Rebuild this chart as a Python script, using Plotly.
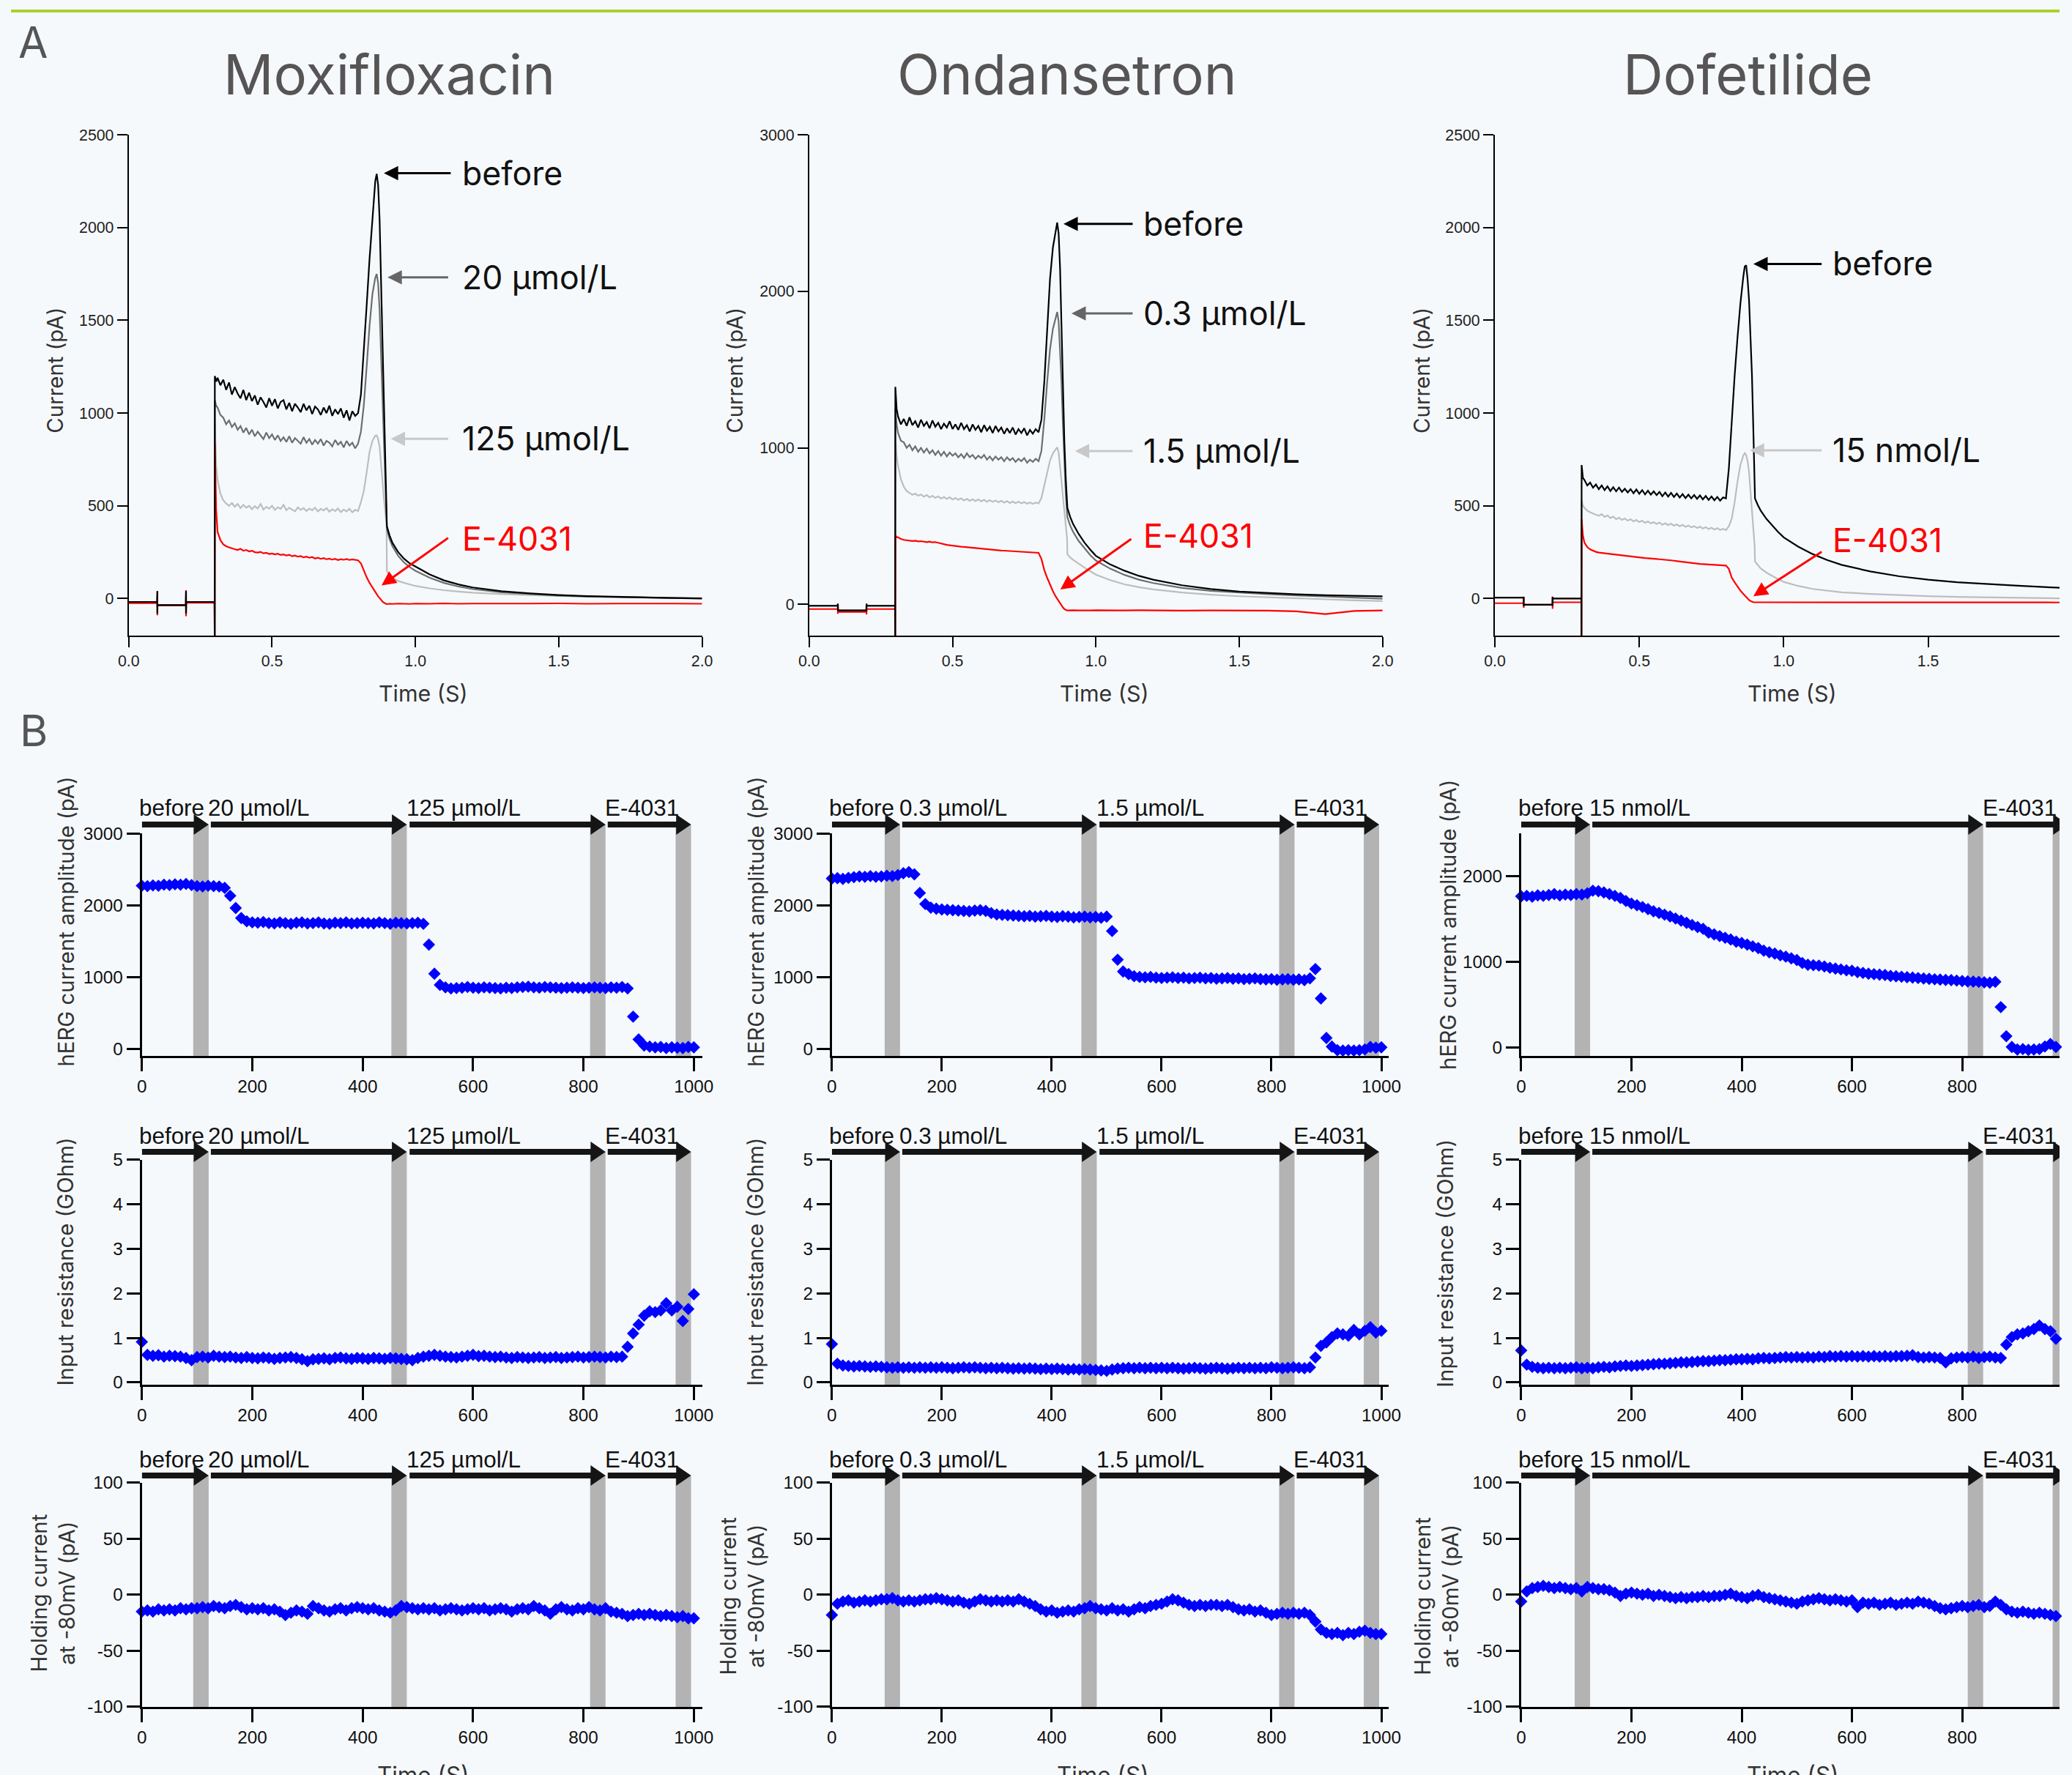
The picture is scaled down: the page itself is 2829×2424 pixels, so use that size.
import plotly.graph_objects as go

W, H = 2829, 2424
BG = "#f6f9fc"
FONT_HEAD = "Inter, 'Open Sans', sans-serif"
FONT_TICK = "'Liberation Sans', Arial, sans-serif"
BLACK, MID, LIGHT, RED = "#000000", "#6e6e6e", "#bdbdbd", "#ff0000"

# The photographed page shows up slightly scaled and shifted; the geometry below is
# given in target-image pixels and mapped back to page pixels here.
SX, OX = 0.9875, 14.5
SY, OY = 0.989, 13.8


def qx(r):
    return (r - OX) / SX


def qy(r):
    return (r - OY) / SY


def px_x(r):
    return qx(r) / W


def px_y(r):
    return 1 - qy(r) / H


def fs(size):
    return round(size / SX, 1)


def x_domain_range(r0, r1, v0, v1):
    q0, q1 = qx(r0), qx(r1)
    if q1 > W:
        v1 = v0 + (v1 - v0) * (W - q0) / (q1 - q0)
        q1 = W
    return [q0 / W, q1 / W], [v0, v1]


# ===================== PANEL A DATA (current in pA vs time in s) =====================
T_PRE = [0.0, 0.0995, 0.1, 0.1, 0.1005, 0.1995, 0.2, 0.2, 0.2005, 0.2995]
T_JUMP = [0.3, 0.3005, 0.305]
T_PLATEAU = [0.31, 0.32, 0.33, 0.34, 0.35, 0.36, 0.37, 0.38, 0.39, 0.40,
             0.41, 0.42, 0.43, 0.44, 0.45, 0.46, 0.47, 0.48, 0.49, 0.50,
             0.51, 0.52, 0.53, 0.54, 0.55, 0.56, 0.57, 0.58, 0.59, 0.60,
             0.61, 0.62, 0.63, 0.64, 0.65, 0.66, 0.67, 0.68, 0.69, 0.70,
             0.71, 0.72, 0.73, 0.74, 0.75, 0.76, 0.77, 0.78, 0.79, 0.80]
T_PEAK = [0.81, 0.82, 0.83, 0.84, 0.85, 0.86, 0.865, 0.87, 0.875, 0.88, 0.885, 0.89, 0.895, 0.8995]
T_TAIL = [0.9005, 0.91, 0.92, 0.94, 0.96, 0.98, 1.0, 1.05, 1.1, 1.15, 1.2, 1.3, 1.4, 1.5, 1.6, 1.7, 1.8, 1.9, 2.0]
TIME_A = T_PRE + T_JUMP + T_PLATEAU + T_PEAK + T_TAIL

# ---- Moxifloxacin ----
MOX_BEFORE = ([-18, -18, 40, -80, -35, -35, 40, -80, -18, -18] + [-200, 1200, 1170] +
              [1190, 1150, 1180, 1125, 1165, 1100, 1140, 1105, 1080, 1125,
               1070, 1110, 1065, 1095, 1045, 1085, 1060, 1030, 1080, 1040,
               1075, 1025, 1060, 1070, 1020, 1055, 1010, 1050, 1030, 1005,
               1050, 1015, 1040, 995, 1035, 1020, 990, 1030, 1000, 1040,
               985, 1020, 995, 1025, 975, 1015, 960, 1010, 985, 1000] +
              [1100, 1320, 1580, 1830, 2060, 2250, 2290, 2230, 2050, 1725, 1350, 970, 650, 420] +
              [390, 340, 300, 250, 215, 190, 172, 130, 98, 76, 60, 40, 28, 19, 13, 9, 6, 3, 1])
MOX_20 = ([-18, -18, 15, -50, -35, -35, 15, -55, -18, -18] + [-200, 1070, 1040] +
          [1030, 990, 975, 940, 960, 925, 945, 910, 930, 895,
           920, 885, 910, 875, 900, 880, 860, 895, 865, 885,
           855, 880, 850, 870, 845, 875, 840, 865, 850, 835,
           870, 840, 860, 830, 855, 835, 860, 825, 850, 840,
           820, 855, 830, 845, 815, 850, 825, 840, 810, 835] +
          [900, 1040, 1250, 1470, 1640, 1730, 1750, 1700, 1560, 1330, 1080, 830, 580, 420] +
          [375, 320, 282, 230, 195, 170, 150, 112, 84, 65, 51, 34, 24, 16, 11, 8, 5, 2, 0])
MOX_125 = ([-18, -18, 5, -40, -35, -35, 5, -45, -18, -18] + [-200, 950, 720] +
           [640, 565, 530, 512, 500, 515, 495, 510, 488, 505,
            490, 500, 482, 498, 486, 510, 480, 495, 485, 500,
            478, 492, 484, 505, 476, 490, 480, 470, 492, 478,
            488, 472, 485, 476, 490, 470, 484, 475, 488, 468,
            482, 472, 486, 466, 480, 470, 484, 465, 478, 472] +
           [520, 580, 680, 790, 850, 878, 880, 860, 820, 740, 640, 540, 460, 400] +
           [150, 125, 110, 95, 85, 75, 68, 55, 45, 38, 32, 24, 18, 14, 11, 8, 5, 3, 0])
MOX_E4031 = ([-25, -25, 40, -90, -35, -35, 45, -95, -23, -23] + [-200, 830, 480] +
             [360, 315, 292, 282, 276, 270, 266, 262, 268, 258,
              262, 254, 258, 250, 248, 252, 244, 247, 240, 243,
              238, 242, 235, 238, 232, 236, 228, 232, 226, 229,
              222, 226, 220, 224, 216, 220, 214, 218, 212, 215,
              210, 214, 208, 212, 209, 213, 208, 211, 207, 206] +
             [190, 150, 115, 85, 60, 35, 22, 12, 3, -8, -16, -22, -28, -30] +
             [-30, -28, -29, -27, -28, -29, -27, -28, -26, -28, -27, -28, -27, -26, -28, -27, -26, -27, -28])

# ---- Ondansetron ----
OND_BEFORE = ([-9, -9, 5, -25, -39, -39, 5, -25, -9, -9] + [-200, 1390, 1250] +
              [1200, 1150, 1185, 1140, 1195, 1145, 1170, 1130, 1180, 1140,
               1165, 1125, 1175, 1135, 1160, 1120, 1155, 1130, 1170, 1120,
               1150, 1115, 1160, 1120, 1145, 1105, 1150, 1115, 1140, 1100,
               1145, 1110, 1135, 1095, 1140, 1105, 1130, 1090, 1125, 1095,
               1130, 1085, 1120, 1095, 1125, 1080, 1115, 1090, 1120, 1100] +
              [1180, 1420, 1750, 2080, 2280, 2400, 2440, 2370, 2150, 1780, 1400, 1040, 800, 650] +
              [617, 560, 515, 450, 395, 350, 310, 255, 215, 182, 158, 122, 98, 82, 72, 64, 58, 54, 51])
OND_03 = ([-9, -9, 0, -20, -39, -39, 0, -20, -9, -9] + [-200, 1250, 1150] +
          [1095, 1045, 1035, 1000, 1020, 985, 1010, 975, 1000, 970,
           995, 965, 985, 955, 980, 950, 975, 945, 970, 950,
           965, 940, 960, 935, 965, 940, 955, 930, 950, 935,
           955, 925, 945, 920, 945, 925, 940, 915, 940, 920,
           935, 910, 930, 915, 935, 905, 925, 910, 930, 915] +
          [980, 1180, 1420, 1630, 1760, 1840, 1868, 1810, 1640, 1420, 1150, 885, 700, 580] +
          [557, 505, 465, 405, 360, 315, 280, 228, 188, 158, 136, 105, 86, 74, 65, 57, 49, 42, 36])
OND_15 = ([-9, -9, 0, -20, -39, -39, 0, -20, -9, -9] + [-200, 1060, 950] +
          [885, 800, 752, 725, 712, 700, 708, 694, 702, 688,
           698, 684, 694, 680, 690, 676, 686, 674, 684, 670,
           680, 668, 678, 664, 674, 662, 672, 660, 670, 658,
           668, 656, 666, 655, 664, 652, 662, 650, 660, 648,
           658, 646, 656, 645, 654, 643, 652, 642, 650, 645] +
          [680, 760, 850, 920, 965, 995, 1004, 970, 890, 790, 690, 590, 480, 420] +
          [320, 300, 285, 258, 235, 212, 190, 155, 128, 110, 96, 76, 62, 52, 45, 39, 32, 26, 21])
OND_E4031 = ([-30, -30, 0, -60, -48, -48, 0, -65, -30, -30] + [-200, 440, 430] +
             [428, 418, 412, 410, 408, 405, 407, 402, 404, 400,
              398, 401, 396, 398, 393, 390, 385, 380, 378, 375,
              372, 370, 368, 367, 365, 363, 361, 360, 357, 355,
              353, 352, 350, 349, 347, 346, 344, 343, 342, 340,
              339, 338, 337, 335, 334, 333, 332, 331, 330, 329] +
             [290, 220, 170, 125, 85, 50, 35, 20, 5, -8, -20, -30, -37, -39] +
             [-39, -40, -38, -39, -40, -39, -38, -40, -39, -38, -39, -40, -39, -38, -40, -45, -62, -42, -39])

# ---- Dofetilide ----
DOF_BEFORE = ([5, 5, 10, -40, -33, -33, 10, -40, 0, 0] + [-200, 720, 650] +
              [640, 610, 625, 598, 615, 590, 610, 585, 605, 580,
               600, 578, 598, 575, 592, 572, 590, 568, 588, 565,
               585, 562, 582, 560, 578, 558, 575, 552, 572, 550,
               570, 548, 566, 545, 563, 542, 560, 540, 558, 538,
               556, 535, 553, 532, 550, 530, 548, 528, 545, 540] +
              [700, 955, 1200, 1407, 1590, 1734, 1790, 1797, 1720, 1608, 1420, 1206, 900, 600] +
              [540, 505, 475, 430, 395, 360, 330, 280, 240, 208, 182, 146, 120, 102, 88, 78, 70, 62, 55])
DOF_15 = ([5, 5, 5, -30, -33, -33, 5, -30, 0, 0] + [-200, 530, 500] +
          [490, 474, 466, 458, 452, 447, 455, 440, 448, 434,
           442, 428, 436, 424, 432, 420, 428, 416, 424, 412,
           420, 408, 416, 405, 412, 402, 410, 398, 406, 396,
           404, 393, 400, 390, 397, 387, 394, 384, 391, 381,
           388, 378, 385, 375, 382, 372, 380, 370, 376, 369] +
          [390, 430, 520, 630, 720, 770, 784, 775, 740, 680, 580, 460, 350, 280] +
          [200, 180, 163, 140, 122, 105, 90, 68, 52, 42, 34, 25, 18, 13, 9, 6, 4, 2, 0])
DOF_E4031 = ([-25, -25, 10, -50, -33, -33, 10, -55, -20, -20] + [-200, 427, 340] +
             [302, 278, 265, 258, 252, 248, 246, 244, 242, 239,
              238, 235, 234, 231, 230, 228, 227, 224, 223, 221,
              220, 218, 217, 215, 214, 213, 212, 211, 210, 209,
              206, 204, 202, 200, 197, 195, 193, 191, 190, 188,
              187, 186, 185, 184, 183, 182, 181, 180, 179, 178] +
             [160, 113, 88, 63, 43, 25, 16, 8, 0, -8, -13, -18, -20, -20] +
             [-20, -21, -20, -19, -20, -21, -20, -19, -20, -21, -20, -20, -19, -20, -21, -20, -19, -20, -21])

A_TITLES = ["Moxifloxacin", "Ondansetron", "Dofetilide"]
A_XTICKS = [0, 0.5, 1.0, 1.5, 2.0]
A_XTICKTEXT = ["0.0", "0.5", "1.0", "1.5", "2.0"]
A_YRANGES = [[-200, 2500], [-200, 3000], [-200, 2500]]
A_YTICKS = [[0, 500, 1000, 1500, 2000, 2500], [0, 1000, 2000, 3000], [0, 500, 1000, 1500, 2000, 2500]]
A_TRACES = [
    [("125 µmol/L", MOX_125, LIGHT), ("20 µmol/L", MOX_20, MID), ("E-4031", MOX_E4031, RED), ("before", MOX_BEFORE, BLACK)],
    [("1.5 µmol/L", OND_15, LIGHT), ("0.3 µmol/L", OND_03, MID), ("E-4031", OND_E4031, RED), ("before", OND_BEFORE, BLACK)],
    [("15 nmol/L", DOF_15, LIGHT), ("E-4031", DOF_E4031, RED), ("before", DOF_BEFORE, BLACK)],
]
# callout labels: text, colour, arrow tip (t, pA), arrow tail (t, pA), label position (t, pA)
A_CALLOUT_TEXT = [["before", "20 µmol/L", "125 µmol/L", "E-4031"],
                  ["before", "0.3 µmol/L", "1.5 µmol/L", "E-4031"],
                  ["before", "15 nmol/L", "E-4031"]]
A_CALLOUT_COLOR = [[BLACK, "#666666", "#c8c8c8", RED], [BLACK, "#666666", "#c8c8c8", RED], [BLACK, "#c8c8c8", RED]]
A_TIP_T = [[0.89, 0.903, 0.914, 0.882], [0.887, 0.915, 0.927, 0.876], [0.895, 0.883, 0.895]]
A_TIP_V = [[2293, 1732, 861, 71], [2431, 1859, 980, 95], [1804, 799, 13]]
A_TAIL_T = [[1.127, 1.118, 1.118, 1.118], [1.132, 1.132, 1.132, 1.127], [1.135, 1.135, 1.135]]
A_TAIL_V = [[2293, 1732, 861, 331], [2431, 1859, 980, 423], [1804, 799, 256]]
A_LABEL_T = [1.159, 1.16, 1.165]
A_LABEL_V = [[2293, 1732, 861, 323], [2431, 1859, 980, 438], [1804, 799, 314]]

# ===================== PANEL B DATA (every 10 s, 0..1000 s) =====================
TIME_B = list(range(0, 1001, 10))

MOX_AMP = [2270, 2265, 2275, 2270, 2285, 2280, 2290, 2285, 2295, 2280,
           2265, 2260, 2270, 2265, 2260, 2240, 2130, 1960, 1820, 1775,
           1760, 1755, 1765, 1750, 1745, 1760, 1750, 1740, 1755, 1760,
           1745, 1750, 1760, 1745, 1740, 1755, 1750, 1760, 1745, 1750,
           1755, 1750, 1745, 1760, 1750, 1740, 1755, 1750, 1745, 1750,
           1755, 1740, 1450, 1045, 890, 855, 840, 845, 850, 860,
           850, 845, 855, 850, 845, 840, 850, 845, 855, 860,
           865, 855, 850, 860, 855, 850, 845, 850, 855, 850,
           845, 850, 855, 850, 845, 855, 850, 860, 840, 447,
           130, 45, 30, 20, 25, 10, 20, 15, 10, 25,
           20]
OND_AMP = [2370, 2375, 2365, 2380, 2390, 2400, 2395, 2405, 2395, 2400,
           2410, 2405, 2420, 2445, 2460, 2430, 2170, 2015, 1965, 1950,
           1940, 1935, 1930, 1925, 1920, 1915, 1925, 1930, 1920, 1890,
           1870, 1865, 1860, 1855, 1850, 1845, 1850, 1840, 1845, 1850,
           1840, 1835, 1845, 1840, 1830, 1835, 1840, 1830, 1835, 1825,
           1840, 1640, 1240, 1075, 1040, 1010, 1000, 995, 1000, 990,
           985, 990, 995, 985, 990, 980, 985, 990, 980, 985,
           975, 980, 985, 975, 980, 970, 975, 980, 970, 965,
           970, 960, 965, 970, 960, 965, 955, 980, 1110, 700,
           150, 30, -20, -25, -20, -25, -20, -10, 25, 15,
           20]
DOF_AMP = [1765, 1770, 1760, 1775, 1770, 1780, 1790, 1775, 1785, 1780,
           1790, 1785, 1800, 1830, 1825, 1810, 1790, 1770, 1745, 1710,
           1680, 1660, 1640, 1615, 1590, 1570, 1550, 1530, 1505, 1480,
           1455, 1430, 1405, 1385, 1340, 1320, 1300, 1280, 1260, 1235,
           1220, 1200, 1180, 1160, 1130, 1110, 1095, 1075, 1060, 1040,
           1020, 985, 965, 960, 955, 945, 930, 920, 910, 900,
           895, 880, 870, 860, 855, 850, 845, 835, 830, 825,
           820, 815, 810, 805, 800, 795, 792, 788, 785, 780,
           775, 770, 768, 765, 760, 755, 765, 470, 130, 5,
           -25, -20, -30, -25, -20, 10, 40, 5, -10, 15,
           10]
MOX_RIN = [0.91, 0.62, 0.60, 0.61, 0.58, 0.60, 0.59, 0.58, 0.55, 0.50,
           0.57, 0.58, 0.56, 0.60, 0.58, 0.57, 0.58, 0.56, 0.55, 0.57,
           0.55, 0.54, 0.56, 0.55, 0.53, 0.55, 0.56, 0.57, 0.55, 0.52,
           0.48, 0.52, 0.53, 0.54, 0.52, 0.55, 0.56, 0.54, 0.53, 0.55,
           0.54, 0.53, 0.55, 0.54, 0.53, 0.55, 0.54, 0.53, 0.52, 0.50,
           0.55, 0.58, 0.60, 0.62, 0.60, 0.58, 0.57, 0.56, 0.58, 0.60,
           0.62, 0.59, 0.60, 0.58, 0.57, 0.58, 0.56, 0.55, 0.57, 0.56,
           0.55, 0.56, 0.57, 0.55, 0.56, 0.57, 0.55, 0.56, 0.57, 0.58,
           0.56, 0.57, 0.58, 0.57, 0.56, 0.58, 0.57, 0.58, 0.80, 1.10,
           1.30, 1.50, 1.60, 1.58, 1.62, 1.78, 1.62, 1.70, 1.38, 1.65,
           1.98]
OND_RIN = [0.86, 0.42, 0.38, 0.37, 0.36, 0.37, 0.36, 0.35, 0.36, 0.35,
           0.34, 0.33, 0.34, 0.33, 0.34, 0.33, 0.34, 0.33, 0.34, 0.33,
           0.34, 0.33, 0.32, 0.33, 0.34, 0.33, 0.34, 0.33, 0.32, 0.33,
           0.32, 0.33, 0.32, 0.31, 0.32, 0.31, 0.32, 0.31, 0.30, 0.31,
           0.30, 0.31, 0.30, 0.29, 0.30, 0.29, 0.30, 0.29, 0.28, 0.27,
           0.26, 0.29, 0.31, 0.32, 0.33, 0.32, 0.33, 0.32, 0.33, 0.32,
           0.33, 0.32, 0.33, 0.32, 0.31, 0.32, 0.33, 0.32, 0.31, 0.32,
           0.33, 0.32, 0.31, 0.32, 0.33, 0.32, 0.33, 0.32, 0.33, 0.32,
           0.34, 0.33, 0.32, 0.33, 0.34, 0.33, 0.32, 0.34, 0.56, 0.82,
           0.90, 1.02, 1.10, 1.08, 1.05, 1.18, 1.08, 1.16, 1.24, 1.12,
           1.16]
DOF_RIN = [0.72, 0.40, 0.35, 0.33, 0.32, 0.33, 0.32, 0.33, 0.32, 0.33,
           0.34, 0.32, 0.33, 0.32, 0.34, 0.35, 0.34, 0.36, 0.37, 0.38,
           0.37, 0.38, 0.39, 0.40, 0.41, 0.42, 0.42, 0.43, 0.44, 0.45,
           0.45, 0.46, 0.47, 0.48, 0.48, 0.49, 0.50, 0.50, 0.51, 0.52,
           0.52, 0.53, 0.52, 0.54, 0.55, 0.54, 0.55, 0.56, 0.57, 0.56,
           0.57, 0.56, 0.57, 0.56, 0.58, 0.57, 0.59, 0.58, 0.59, 0.58,
           0.59, 0.58, 0.59, 0.58, 0.59, 0.58, 0.59, 0.58, 0.59, 0.59,
           0.60, 0.61, 0.57, 0.56, 0.57, 0.56, 0.55, 0.45, 0.54, 0.56,
           0.57, 0.56, 0.58, 0.55, 0.57, 0.58, 0.56, 0.55, 0.85, 1.02,
           1.08, 1.10, 1.15, 1.20, 1.28, 1.20, 1.15, 0.98, 1.18, 1.25,
           1.28]
MOX_HOLD = [-15, -14, -15, -13, -14, -13, -14, -12, -13, -12,
            -12, -11, -12, -10, -11, -12, -10, -9, -11, -13,
            -12, -13, -12, -14, -13, -15, -18, -16, -14, -15,
            -17, -10, -12, -14, -15, -13, -12, -14, -12, -11,
            -12, -13, -12, -14, -15, -16, -14, -10, -11, -12,
            -13, -12, -13, -12, -14, -13, -12, -13, -14, -13,
            -12, -13, -12, -14, -13, -12, -13, -15, -13, -12,
            -13, -10, -12, -14, -17, -13, -11, -13, -14, -12,
            -13, -11, -13, -14, -12, -15, -16, -17, -19, -18,
            -17, -18, -17, -18, -19, -18, -19, -20, -19, -21,
            -21]
OND_HOLD = [-18, -8, -6, -5, -7, -6, -5, -6, -5, -4,
            -4, -3, -5, -6, -5, -6, -5, -4, -4, -3,
            -4, -5, -6, -5, -7, -8, -6, -4, -5, -6,
            -5, -6, -5, -6, -4, -6, -8, -10, -13, -15,
            -14, -16, -15, -14, -15, -13, -12, -10, -12, -13,
            -14, -12, -14, -13, -15, -13, -11, -12, -10, -9,
            -8, -6, -4, -5, -7, -9, -10, -9, -10, -9,
            -9, -10, -9, -11, -13, -14, -13, -15, -14, -16,
            -18, -17, -16, -17, -16, -17, -16, -18, -24, -31,
            -34, -35, -34, -36, -34, -35, -33, -32, -34, -35,
            -35]
DOF_HOLD = [-6, 3, 6, 7, 8, 7, 6, 7, 6, 5,
            6, 3, 7, 6, 5, 5, 4, 2, -1, 1,
            2, 1, 0, 1, -1, 0, -1, -2, -3, -2,
            -3, -2, -2, -1, -2, -1, -1, 0, 1, -1,
            -2, -3, -1, 0, -2, -3, -4, -5, -6, -7,
            -8, -6, -5, -4, -3, -4, -5, -4, -5, -6,
            -5, -11, -7, -8, -7, -9, -8, -7, -9, -8,
            -7, -8, -6, -7, -8, -10, -12, -13, -12, -11,
            -10, -11, -10, -9, -11, -10, -6, -9, -13, -15,
            -16, -15, -16, -17, -16, -17, -18, -19, -18, -17,
            -16]

PERIOD_LABELS = [["before", "20 µmol/L", "125 µmol/L", "E-4031"],
                 ["before", "0.3 µmol/L", "1.5 µmol/L", "E-4031"],
                 ["before", "15 nmol/L", "E-4031"]]
PERIOD_START = [[0, 125, 485, 844], [0, 128, 487, 846], [0, 129, 843]]
PERIOD_END = [[121, 480, 840, 995], [124, 482, 842, 996], [125, 838, 992]]
SAMPLE_WINDOW = 28  # seconds averaged at end of each period (grey bars)

B_ROW_TITLES = ["hERG current amplitude (pA)", "Input resistance (GOhm)", "Holding current<br>at -80mV (pA)"]
B_ROW_DATA = [[MOX_AMP, OND_AMP, DOF_AMP], [MOX_RIN, OND_RIN, DOF_RIN], [MOX_HOLD, OND_HOLD, DOF_HOLD]]
B_ROW_YRANGE = [[[-100, 3000], [-100, 3000], [-100, 2500]],
                [[-0.05, 5], [-0.05, 5], [-0.05, 5]],
                [[-100, 100], [-100, 100], [-100, 100]]]
B_ROW_YTICKS = [[[0, 1000, 2000, 3000], [0, 1000, 2000, 3000], [0, 1000, 2000]],
                [[0, 1, 2, 3, 4, 5]] * 3,
                [[-100, -50, 0, 50, 100]] * 3]
B_ROW_YTICKTEXT = [[["0", "1000", "2000", "3000"], ["0", "1000", "2000", "3000"], ["0", "1000", "2000"]],
                   [["0", "1", "2", "3", "4", "5"]] * 3,
                   [["-100", "-50", "0", "50", "100"]] * 3]
B_XTICKS = [0, 200, 400, 600, 800, 1000]
B_XTICKTEXT = ["0", "200", "400", "600", "800", "1000"]

# ===================== LAYOUT GEOMETRY (target pixels) =====================
A_XDOM = [(175, 957), (1103, 1885), (2038, 2826)]
A_YDOM = (185, 869)
A_TITLE_X = [530, 1455, 2383]
A_YTITLE_X = [75, 1001, 1938]
A_XTITLE_X = [577, 1506, 2444]

B_XDOM = [(193, 957), (1134, 1893), (2074, 2828)]
B_XRANGE = [[0, 1015], [0, 1013], [0, 1003]]
B_YDOM = [(1139, 1443), (1585, 1892), (2026, 2332)]
B_ARROW_Y = [1127, 1574, 2016]
B_LABEL_Y = [1104, 1553, 1995]
B_YTITLE_X = [[89, 1030, 1974], [89, 1030, 1971], [72, 1012, 1959]]
B_YTITLE_Y = [[1260, 1260, 1264], [1724, 1724, 1726], [2177, 2181, 2181]]
B_XTITLE_X = [577, 1504, 2445]

fig = go.Figure()
layout = {}
annotations = []
shapes = []

shapes.append(dict(type="rect", xref="paper", yref="paper", x0=0, x1=1, y0=1 - 4 / H, y1=1,
                   fillcolor="#a9d12e", line=dict(width=0), layer="above"))


def text_ann(text, x, y, size, color, family=FONT_HEAD, angle=0, xanchor="center", yanchor="middle"):
    return dict(text=text, x=px_x(x), y=px_y(y), xref="paper", yref="paper", showarrow=False,
                font=dict(size=fs(size), color=color, family=family), textangle=angle,
                xanchor=xanchor, yanchor=yanchor)


annotations.append(text_ann("A", 45, 58, 58, "#555555"))
annotations.append(text_ann("B", 45, 998, 58, "#555555"))

A_AXIS = dict(showline=True, linecolor="black", linewidth=2, ticks="outside", ticklen=14, tickwidth=2,
              tickcolor="black", showgrid=False, zeroline=False, fixedrange=True,
              tickfont=dict(family=FONT_TICK, size=fs(21), color="#222222"))

for i in range(3):
    sfx = "" if i == 0 else str(i + 1)
    xa, ya = "x" + sfx, "y" + sfx
    xdom, xrng = x_domain_range(A_XDOM[i][0], A_XDOM[i][1], 0, 2.0)
    layout["xaxis" + sfx] = dict(domain=xdom, range=xrng, anchor=ya,
                                 tickvals=A_XTICKS, ticktext=A_XTICKTEXT, **A_AXIS)
    layout["yaxis" + sfx] = dict(domain=[px_y(A_YDOM[1]), px_y(A_YDOM[0])], range=A_YRANGES[i], anchor=xa,
                                 tickvals=A_YTICKS[i], **A_AXIS)
    for name, vals, col in A_TRACES[i]:
        fig.add_trace(go.Scatter(x=TIME_A, y=vals, mode="lines", name=name, showlegend=False,
                                 line=dict(color=col, width=2.2), xaxis=xa, yaxis=ya))
    for k, txt in enumerate(A_CALLOUT_TEXT[i]):
        col = A_CALLOUT_COLOR[i][k]
        annotations.append(dict(text="", x=A_TIP_T[i][k], y=A_TIP_V[i][k], ax=A_TAIL_T[i][k], ay=A_TAIL_V[i][k],
                                xref=xa, yref=ya, axref=xa, ayref=ya, showarrow=True, arrowhead=2,
                                arrowsize=1.3, arrowwidth=3, arrowcolor=col))
        annotations.append(dict(text=txt, x=A_LABEL_T[i], y=A_LABEL_V[i][k], xref=xa, yref=ya, showarrow=False,
                                xanchor="left", yanchor="middle",
                                font=dict(family=FONT_HEAD, size=fs(44), color=RED if txt == "E-4031" else "#111111")))
    annotations.append(text_ann(A_TITLES[i], A_TITLE_X[i], 102, 75, "#565454"))
    annotations.append(text_ann("Current (pA)", A_YTITLE_X[i], 507, 29, "#333333", angle=-90))
    annotations.append(text_ann("Time (S)", A_XTITLE_X[i], 948, 30, "#333333"))

B_AXIS = dict(showline=True, linecolor="black", linewidth=3, ticks="outside", ticklen=18, tickwidth=2.5,
              tickcolor="black", showgrid=False, zeroline=False, fixedrange=True,
              tickfont=dict(family=FONT_TICK, size=fs(24), color="#111111"))

HEAD_LEN = 27  # s
HEAD_HALF = 14  # px
for r in range(3):
    for c in range(3):
        n = 4 + r * 3 + c
        sfx = str(n)
        xa, ya = "x" + sfx, "y" + sfx
        top_px, bot_px = B_YDOM[r]
        xdom, xrng = x_domain_range(B_XDOM[c][0], B_XDOM[c][1], B_XRANGE[c][0], B_XRANGE[c][1])
        layout["xaxis" + sfx] = dict(domain=xdom, range=xrng, anchor=ya,
                                     tickvals=B_XTICKS, ticktext=B_XTICKTEXT, **B_AXIS)
        layout["yaxis" + sfx] = dict(domain=[px_y(bot_px), px_y(top_px)], range=B_ROW_YRANGE[r][c], anchor=xa,
                                     tickvals=B_ROW_YTICKS[r][c], ticktext=B_ROW_YTICKTEXT[r][c], **B_AXIS)
        fig.add_trace(go.Scatter(x=TIME_B, y=B_ROW_DATA[r][c], mode="markers", showlegend=False, cliponaxis=False,
                                 marker=dict(symbol="diamond", size=13, color="#0000ff", line=dict(width=0)),
                                 xaxis=xa, yaxis=ya))
        ay = B_ARROW_Y[r]
        for k, lab in enumerate(PERIOD_LABELS[c]):
            s, e = PERIOD_START[c][k], PERIOD_END[c][k]
            shapes.append(dict(type="rect", xref=xa, yref="paper", x0=e - SAMPLE_WINDOW, x1=e,
                               y0=px_y(bot_px), y1=px_y(ay), fillcolor="#b3b3b3", line=dict(width=0), layer="below"))
            shapes.append(dict(type="line", xref=xa, yref="paper", x0=s, x1=e - HEAD_LEN + 2, y0=px_y(ay), y1=px_y(ay),
                               line=dict(color="#151515", width=8), layer="above"))
            shapes.append(dict(type="path", xref=xa, yref="paper",
                               path=f"M {e - HEAD_LEN},{px_y(ay - HEAD_HALF)} L {e},{px_y(ay)} L {e - HEAD_LEN},{px_y(ay + HEAD_HALF)} Z",
                               fillcolor="#151515", line=dict(width=0), layer="above"))
            annotations.append(dict(text=lab, x=s, y=px_y(B_LABEL_Y[r]), xref=xa, yref="paper", showarrow=False,
                                    xanchor="left", yanchor="middle", xshift=-6,
                                    font=dict(family=FONT_TICK, size=fs(31), color="#111111")))
        annotations.append(text_ann(B_ROW_TITLES[r], B_YTITLE_X[r][c], B_YTITLE_Y[r][c], 29, "#333333", angle=-90))
        if r == 2:
            annotations.append(text_ann("Time (S)", B_XTITLE_X[c], 2404, 31, "#333333", yanchor="top"))

fig.update_layout(width=W, height=H, margin=dict(l=0, r=0, t=0, b=0), paper_bgcolor=BG, plot_bgcolor=BG,
                  showlegend=False, annotations=annotations, shapes=shapes, **layout)
fig.write_html("out.html", config={"displayModeBar": False},
               post_script="document.documentElement.style.margin='0';document.documentElement.style.padding='0';"
                           "document.body.style.margin='0';document.body.style.padding='0';"
                           "document.documentElement.style.overflow='hidden';document.body.style.overflow='hidden';"
                           "document.body.style.background='" + BG + "';")
